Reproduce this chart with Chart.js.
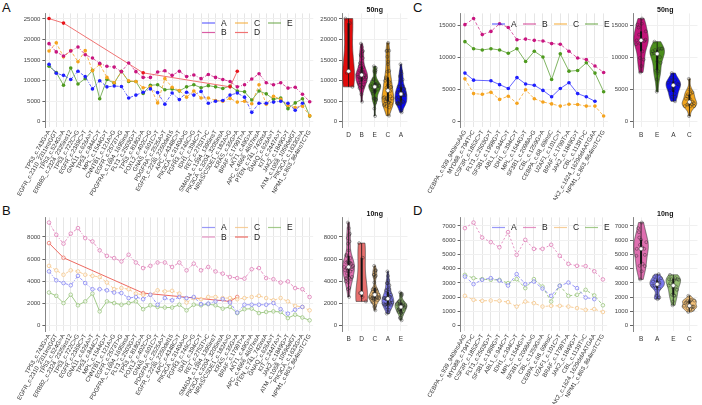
<!DOCTYPE html>
<html>
<head>
<meta charset="utf-8">
<script src="https://cdn.jsdelivr.net/npm/chart.js@4.4.0/dist/chart.umd.min.js"></script>
<style>
  body { margin: 0; width: 702px; height: 405px; position: relative; overflow: hidden; background: #fff; font-family: "Liberation Sans", Arial, sans-serif; }
  .tag { position: absolute; font-size: 13px; line-height: 13px; color: #111; }
  canvas { position: absolute; }
</style>
</head>
<body>
<div class="tag" style="left:2px;top:1px">A</div>
<div class="tag" style="left:2px;top:204px">B</div>
<div class="tag" style="left:413px;top:1px">C</div>
<div class="tag" style="left:413px;top:204px">D</div>

<canvas id="lineA" width="318" height="200" style="left:0;top:0"></canvas>
<canvas id="violA" width="112" height="200" style="left:300px;top:0"></canvas>
<canvas id="lineC" width="200" height="200" style="left:412px;top:0"></canvas>
<canvas id="violC" width="90" height="200" style="left:612px;top:0"></canvas>
<canvas id="lineB" width="318" height="200" style="left:0;top:204px"></canvas>
<canvas id="violB" width="112" height="200" style="left:300px;top:204px"></canvas>
<canvas id="lineD" width="200" height="200" style="left:412px;top:204px"></canvas>
<canvas id="violD" width="90" height="200" style="left:612px;top:204px"></canvas>

<script>
// mutations, panels A/B
const mutsAB = ['TP53_c.743G>A', 'EGFR_c.2310_2311insGGT', 'TP53_c.524G>A', 'ERBB2_c.2324_2325ins12', 'TP53_c.722C>G',
  'EGFR_c.2369C>T', 'GNA11_c.626A>T', 'TP53_c.844C>T', 'MPL_c.1544G>T', 'CNNTB1_c.121A>G', 'EGFR_c.2573T>G',
  'PDGFRA_c.1694_1695insA', 'FLT3_c.2503G>T', 'TP53_c.818G>A', 'FOXL2_c.402C>G', 'GNAS_c.601C>T', 'PDGFRA_c.2525A>T',
  'EGFR_c.2236_2250del15', 'APC_c.4348C>T', 'PIK3CA_c.3140A>G', 'FGFR3_c.746C>G', 'IDH1_c.394C>T', 'RET_c.2753T>C',
  'SMAD4_c.1394_1395insT', 'PIK3CA_c.3204_3205insA', 'NRAS/CSDE1_c.182A>G', 'KRAS_c.35G>A', 'BRAF_c.1799T>A',
  'AKT1_c.49G>A', 'APC_c.4666_4667insA', 'PTEN_c.741_742insA', 'GNAQ_c.626A>T', 'KIT_c.2447A>T', 'JAK2_c.1849G>T',
  'ATM_c.1058_1059delGT', 'PIK3CA_c.1633G>A', 'NPM1_c.863_864insTCTG'];

// mutations, panels C/D
const mutsCD = ['CEBPA_c.939_940insAAG', 'MYD88_c.794T>C', 'CSF3R_c.1853C>T', 'FLT3_c.2503G>T', 'SF3B1_c.1998G>T',
  'ABL1_c.944C>T', 'IDH1_c.394C>T', 'MPL_c.1544G>T', 'SF3B1_c.2098A>G', 'CBL_c.1259G>A', 'CEBPA_c.68_69insC',
  'U2AF1_c.101C>T', 'BRAF_c.1799T>A', 'JAK2_c.1849G>T', 'CBL_c.1139T>C', 'JAK2_c.1624_1629delAATGAA', 'NPM1_c.863_864insTCTG'];

// y tick labels
const ticksA = [0, 5000, 10000, 15000, 20000, 25000];
const ticksB = [0, 2000, 4000, 6000, 8000];
const ticksC = [0, 5000, 10000, 15000];
const ticksD = [0, 1000, 2000, 3000, 4000, 5000, 6000, 7000];

// panel A (50ng)
const a50 = [14000, 11800, 11300, 10300, 12300, 11000, 8000, 10000, 8500, 8700, 8600, 5800, 6500, 7200, 8000, 7100, 4300, 7000, 5400, 7200, 6500, 7400, 4500, 5000, 5200, 6500, 7000, 6000, 2300, 4500, 4500, 4800, 5000, 4500, 2800, 4500, null];
const b50 = [19000, 17000, 16000, 17200, 18200, 16300, 15500, 14200, 13500, 13300, 12200, 14300, 12200, 10800, 10800, 12100, 12400, 11300, 12300, 11000, 11400, 10500, 11500, 10800, 10300, 9800, 8500, 9000, 10400, 11700, 9500, 9000, 9500, 8200, 8400, 6700, 4900];
const c50 = [17200, 19200, 15800, 17300, 14600, 17300, 12400, 14000, 10800, 9500, 12200, 10000, 9800, 8300, 8500, 4600, 10500, 8400, 7600, 6000, 7500, 5800, 5800, 5200, 5000, 5700, 4800, 5000, 4400, 9000, 4300, 6200, 5500, 4000, 3500, 3800, 1500];
const d50 = [25100, null, 24000, null, null, null, null, null, null, null, null, null, null, 11900, null, null, null, null, null, null, null, null, null, null, null, 8500, 12300, null, null, null, null, null, null, null, null, null, null];
const e50 = [13500, 12000, 8900, 13100, 9200, 10500, 12500, 5600, 10300, 9400, 12300, 9800, 9800, 6900, 8900, 9000, 7800, 8000, 7500, 8500, 9000, 8300, 8800, 8500, 8100, 8700, 7500, 7300, 5300, 7500, 6800, 5500, 5800, 3200, 4600, 5600, 1400];

// panel B (10ng)
const a10 = [4900, 4100, 3850, 3650, 4500, 3850, 3300, 3300, 3200, 3000, 2950, 2500, 2600, 2400, 2800, 1900, 2500, 2300, 2600, 2500, 2600, 1950, 2000, 2200, 2400, 2100, 1200, 1900, 1900, 1900, 1900, 2050, 1500, 1100, 1450, 1700, null];
const b10 = [9300, 8200, 7400, 8300, 8800, 7900, 7600, 6800, 6300, 6100, 5800, 6400, 5700, 5200, 5400, 5700, 5700, 5300, 5700, 5000, 5600, 5000, 5300, 4900, 4700, 4400, 4300, 4250, 5100, 5200, 4300, 4200, 3900, 4000, 3400, 3300, 2600];
const c10 = [5400, 5000, 4600, 5000, 4900, 4600, 4500, 4400, 3900, 3300, 3400, 3300, 2900, 2800, 2800, 3200, 3100, 3150, 2900, 2100, 2500, 2400, 2600, 2600, 2500, 2500, 2400, 2500, 2600, 2700, 2500, 2300, 2500, 2200, 1800, 1700, 1400];
const d10 = [7450, null, 6130, null, null, null, null, null, null, null, null, null, null, 2950, null, null, null, null, null, null, null, null, null, null, null, 2200, 2600, null, null, null, null, null, null, null, null, null, null];
const e10 = [3000, 2700, 2050, 2800, 1850, 2200, 2900, 1300, 2200, 2050, 1900, 2050, 2200, 1500, 1850, 1700, 1650, 1650, 1900, 1400, 1900, 1850, 1950, 1850, 1550, 1700, 1150, 1500, 1550, 1150, 1250, 1300, 1250, 700, 1000, 750, 500];

// panel C (50ng)
const a50c = [7600, 6500, null, 6400, 5800, 5200, 6900, 5900, 5700, 4900, 3900, 5200, 6100, 4400, 3900, 3200, null];
const b50c = [15150, 16100, 13600, 14100, 15300, 14700, 12800, 12900, 12700, 12600, 12200, 12100, 11000, 9950, 9700, 8700, 7700];
const c50c = [6700, 4400, 4300, 4600, 3500, 4000, 2900, 5000, 3600, 3100, 2800, 2450, 2750, 2700, 2450, 2450, 900];
const e50c = [12500, 11400, 11200, 11400, 11200, 10700, 11400, 9400, 11000, 10100, 6600, 10600, 7900, 8000, 9200, 7600, 4700];

// panel D (10ng)
const a10d = [3450, 2920, 3220, 3340, 3170, 2820, 3620, 2920, 3100, 2610, 2100, 2800, 3030, 2640, 1980, 1870, null];
const b10d = [6840, 7230, 6180, 5860, 5500, 6560, 4970, 6020, 5390, 5390, 5670, 4900, 4340, 4200, 4180, 3820, 3250];
const c10d = [2100, 1820, 1750, 1770, 1750, 1660, 1350, 1700, 1590, 1350, 1400, 1400, 1350, 1240, 1120, 1170, 970];
const e10d = [3570, 3340, 3270, 3220, 3220, 2990, 3270, 2640, 3270, 2750, 1700, 2820, 2100, 2170, 2520, 2130, 1440];

// violin order per panel
const orderA = ['D', 'B', 'E', 'C', 'A'];
const orderB = ['B', 'D', 'C', 'A', 'E'];
const orderC = ['B', 'E', 'A', 'C'];
const orderD = ['B', 'A', 'E', 'C'];

Chart.defaults.font.family = '"Liberation Sans", Arial, sans-serif';

// colours
const strong = {
  point: { A: '#1f1fff', B: '#c8157f', C: '#f5a31d', D: '#e8141b', E: '#4e9a1e' },
  line: { A: 'rgba(50,50,255,0.75)', B: 'rgba(205,40,135,0.75)', C: 'rgba(245,165,40,0.8)', D: 'rgba(240,100,100,0.9)', E: 'rgba(85,155,45,0.75)' },
  violin: { A: '#0b0bf0', B: '#c2157a', C: '#f2a51f', D: '#e00b0b', E: '#4b8f1c' }
};
const soft = {
  point: { A: '#8484f2', B: '#de7cb6', C: '#f5c78a', D: '#ec7468', E: '#9bc57e' },
  line: { A: 'rgba(110,110,245,0.7)', B: 'rgba(220,110,175,0.75)', C: 'rgba(245,195,130,0.8)', D: 'rgba(235,90,80,0.9)', E: 'rgba(140,190,110,0.8)' },
  violin: { A: '#7b78ee', B: '#df6fb0', C: '#f4c27a', D: '#e8706e', E: '#95bf72' }
};

const PLOT_TOP = 13.4, AXIS_H = 73;
const legendCfg = {};
const violinCfg = {};

function yRange(arrs) {
  const m = Math.max(...arrs.flat().filter(v => v != null));
  return { min: -m * 0.05, max: m * 1.05 };
}

const legendPlugin = {
  id: 'panelLegend',
  afterDraw(chart) {
    const L = legendCfg[chart.canvas.id];
    if (!L) return;
    const ctx = chart.ctx;
    ctx.save();
    ctx.font = '8.5px "Liberation Sans", Arial, sans-serif';
    ctx.textBaseline = 'middle';
    L.order.forEach((name, i) => {
      const ds = chart.data.datasets.find(d => d.label === name);
      const x = L.x + (i % L.cols) * L.dx;
      const y = L.y + Math.floor(i / L.cols) * L.dy;
      ctx.strokeStyle = ds.borderColor;
      ctx.lineWidth = 1.2;
      ctx.setLineDash([]);
      ctx.beginPath(); ctx.moveTo(x, y); ctx.lineTo(x + 13, y); ctx.stroke();
      ctx.fillStyle = '#222';
      ctx.fillText(name, x + 19, y + 0.5);
    });
    ctx.restore();
  }
};

function lineChart(id, cats, series, ticks, pal, faded, dashes, yW, rightPad) {
  const r = yRange(series.map(s => s[1]));
  return new Chart(document.getElementById(id), {
    type: 'line',
    data: {
      labels: cats,
      datasets: series.map(([name, data]) => ({
        label: name, data: data,
        borderColor: pal.line[name], borderWidth: 1, borderDash: dashes[name],
        pointRadius: 1.8, pointBackgroundColor: faded ? 'rgba(255,255,255,0.6)' : pal.point[name],
        pointBorderColor: pal.point[name], pointBorderWidth: faded ? 0.8 : 0,
        spanGaps: true, tension: 0
      }))
    },
    options: {
      responsive: false, animation: false, devicePixelRatio: 1,
      layout: { padding: { top: PLOT_TOP, right: rightPad, left: 0, bottom: 0 } },
      plugins: { legend: { display: false }, tooltip: { enabled: false } },
      scales: {
        x: {
          offset: true,
          grid: { color: '#e6e6e6', lineWidth: 1, offset: false, drawTicks: false },
          border: { display: false },
          ticks: { autoSkip: false, minRotation: 60, maxRotation: 60, font: { size: 6 }, color: '#333', padding: 2 },
          afterFit: s => { s.height = AXIS_H; }
        },
        y: {
          min: r.min, max: r.max,
          grid: { color: '#f0f0f0', tickColor: '#666', tickLength: 3 },
          border: { color: '#666', width: 0.8 },
          afterBuildTicks: a => { a.ticks = ticks.map(v => ({ value: v })); },
          ticks: { font: { size: 6 }, color: '#444', padding: 2, callback: v => String(v) },
          afterFit: s => { s.width = yW; }
        }
      }
    },
    plugins: [legendPlugin]
  });
}

// kernel density helpers
function quantile(s, p) {
  const h = (s.length - 1) * p, i = Math.floor(h);
  return s[i] + (h - i) * (s[Math.min(i + 1, s.length - 1)] - s[i]);
}
function bandwidth(vals) {
  const n = vals.length, m = vals.reduce((a, b) => a + b, 0) / n;
  const sd = Math.sqrt(vals.reduce((s, v) => s + (v - m) ** 2, 0) / (n - 1));
  const s = [...vals].sort((a, b) => a - b);
  let lo = Math.min(sd, (quantile(s, 0.75) - quantile(s, 0.25)) / 1.34);
  if (!lo) lo = sd || 1;
  return 0.9 * lo * Math.pow(n, -0.2);
}
function density(vals, bw) {
  return y => vals.reduce((s, v) => s + Math.exp(-0.5 * ((y - v) / bw) ** 2), 0);
}

const violinPlugin = {
  id: 'violins',
  beforeDatasetsDraw(chart) {
    const cfg = violinCfg[chart.canvas.id];
    const { ctx, scales: { x, y } } = chart;
    ctx.save();
    cfg.groups.forEach((g, gi) => {
      const cx = gi + 1;
      ctx.beginPath();
      g.curve.forEach(([v, w], k) => {
        const px = x.getPixelForValue(cx + w), py = y.getPixelForValue(v);
        k ? ctx.lineTo(px, py) : ctx.moveTo(px, py);
      });
      for (let k = g.curve.length - 1; k >= 0; k--) {
        const [v, w] = g.curve[k];
        ctx.lineTo(x.getPixelForValue(cx - w), y.getPixelForValue(v));
      }
      ctx.closePath();
      ctx.fillStyle = g.color; ctx.fill();
      ctx.strokeStyle = '#3a3a3a'; ctx.lineWidth = 0.6; ctx.stroke();
      const px = x.getPixelForValue(cx);
      ctx.strokeStyle = '#111';
      ctx.lineWidth = 0.8;
      ctx.beginPath(); ctx.moveTo(px, y.getPixelForValue(g.min)); ctx.lineTo(px, y.getPixelForValue(g.max)); ctx.stroke();
      ctx.lineWidth = 2;
      ctx.beginPath(); ctx.moveTo(px, y.getPixelForValue(g.q1)); ctx.lineTo(px, y.getPixelForValue(g.q3)); ctx.stroke();
    });
    ctx.restore();
  },
  afterDatasetsDraw(chart) {
    const cfg = violinCfg[chart.canvas.id];
    const { ctx, scales: { x, y }, chartArea } = chart;
    ctx.save();
    cfg.groups.forEach((g, gi) => {
      ctx.beginPath();
      ctx.arc(x.getPixelForValue(gi + 1), y.getPixelForValue(g.med), 2, 0, Math.PI * 2);
      ctx.fillStyle = '#fff'; ctx.fill();
      ctx.strokeStyle = '#333'; ctx.lineWidth = 0.5; ctx.stroke();
    });
    ctx.font = 'bold 7px "Liberation Sans", Arial, sans-serif';
    ctx.fillStyle = '#111';
    ctx.textAlign = 'center'; ctx.textBaseline = 'middle';
    ctx.fillText(cfg.title, (chartArea.left + chartArea.right) / 2, 10);
    ctx.restore();
  }
};

function violinChart(id, order, source, pal, ticks, title, yW, rightPad, yArrs) {
  const r = yRange(yArrs);
  const groups = order.map(k => {
    const vals = source[k].filter(v => v != null);
    const s = [...vals].sort((a, b) => a - b);
    const f = density(vals, bandwidth(vals));
    const curve = [];
    let maxd = 0;
    for (let i = 0; i <= 60; i++) {
      const v = s[0] + (s[s.length - 1] - s[0]) * i / 60;
      const d = f(v);
      curve.push([v, d]);
      maxd = Math.max(maxd, d);
    }
    curve.forEach(c => { c[1] = 0.45 * c[1] / maxd; });
    const halfAt = v => 0.45 * f(v) / maxd;
    return { name: k, vals, color: pal.violin[k], curve, halfAt,
      min: s[0], max: s[s.length - 1], q1: quantile(s, 0.25), q3: quantile(s, 0.75), med: quantile(s, 0.5) };
  });
  violinCfg[id] = { groups, title };
  const pts = [];
  groups.forEach((g, gi) => g.vals.forEach((v, i) => {
    const pat = ((i * 7) % 11) / 10 - 0.5;
    pts.push({ x: gi + 1 + pat * 1.5 * g.halfAt(v), y: v });
  }));
  return new Chart(document.getElementById(id), {
    type: 'scatter',
    data: { datasets: [{ data: pts, pointRadius: 1.5, pointBackgroundColor: 'rgba(0,0,0,0)', pointBorderColor: 'rgba(40,40,40,0.8)', pointBorderWidth: 0.5 }] },
    options: {
      responsive: false, animation: false, devicePixelRatio: 1,
      layout: { padding: { top: PLOT_TOP, right: rightPad, left: 0, bottom: 0 } },
      plugins: { legend: { display: false }, tooltip: { enabled: false } },
      scales: {
        x: {
          min: 0.5, max: order.length + 0.5,
          grid: { color: '#efefef', drawTicks: false },
          border: { display: false },
          afterBuildTicks: a => { a.ticks = order.map((_, i) => ({ value: i + 1 })); },
          ticks: { maxRotation: 0, font: { size: 6.5 }, color: '#333', padding: 4, callback: (v, i) => order[i] },
          afterFit: s => { s.height = AXIS_H; }
        },
        y: {
          min: r.min, max: r.max,
          grid: { color: '#f0f0f0', tickColor: '#666', tickLength: 3 },
          border: { color: '#666', width: 0.8 },
          afterBuildTicks: a => { a.ticks = ticks.map(v => ({ value: v })); },
          ticks: { font: { size: 6 }, color: '#444', padding: 2, callback: v => String(v) },
          afterFit: s => { s.width = yW; }
        }
      }
    },
    plugins: [violinPlugin]
  });
}

const dashAB = { A: [3, 1.5, 1, 1.5], B: [3, 1.5, 1, 1.5], C: [3, 2], D: [], E: [] };
const dashC = { A: [], B: [3, 2], C: [3, 2], E: [] };
const dashD = { A: [3, 2], B: [2, 2], C: [3, 2], E: [3, 2] };

legendCfg.lineA = { x: 202, y: 23, dx: 33, dy: 9.5, cols: 3, order: ['A', 'C', 'E', 'B', 'D'] };
legendCfg.lineB = { x: 202, y: 23.5, dx: 33, dy: 9.5, cols: 3, order: ['A', 'C', 'E', 'B', 'D'] };
legendCfg.lineC = { x: 80, y: 24, dx: 31, dy: 0, cols: 4, order: ['A', 'B', 'C', 'E'] };
legendCfg.lineD = { x: 80, y: 23.5, dx: 31, dy: 0, cols: 4, order: ['A', 'B', 'C', 'E'] };

lineChart('lineA', mutsAB, [['A', a50], ['B', b50], ['C', c50], ['D', d50], ['E', e50]], ticksA, strong, false, dashAB, 45.4, 4.4);
lineChart('lineB', mutsAB, [['A', a10], ['B', b10], ['C', c10], ['D', d10], ['E', e10]], ticksB, soft, true, dashAB, 45.4, 4.4);
lineChart('lineC', mutsCD, [['A', a50c], ['B', b50c], ['C', c50c], ['E', e50c]], ticksC, strong, false, dashC, 48.6, 2.6);
lineChart('lineD', mutsCD, [['A', a10d], ['B', b10d], ['C', c10d], ['E', e10d]], ticksD, soft, true, dashD, 48.6, 2.6);

violinChart('violA', orderA, { A: a50, B: b50, C: c50, D: d50, E: e50 }, strong, ticksA, '50ng', 42, 4, [a50, b50, c50, d50, e50]);
violinChart('violB', orderB, { A: a10, B: b10, C: c10, D: d10, E: e10 }, soft, ticksB, '10ng', 42, 4, [a10, b10, c10, d10, e10]);
violinChart('violC', orderC, { A: a50c, B: b50c, C: c50c, E: e50c }, strong, ticksC, '50ng', 21, 3, [a50c, b50c, c50c, e50c]);
violinChart('violD', orderD, { A: a10d, B: b10d, C: c10d, E: e10d }, soft, ticksD, '10ng', 21, 3, [a10d, b10d, c10d, e10d]);
</script>
</body>
</html>
